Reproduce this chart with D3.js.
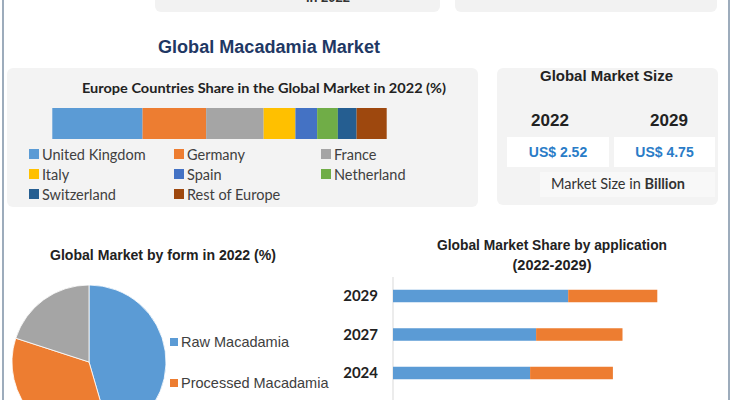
<!DOCTYPE html>
<html><head><meta charset="utf-8">
<script src="https://cdn.jsdelivr.net/npm/d3@7"></script>
<style>html,body{margin:0;padding:0;background:#fff;overflow:hidden}svg{display:block}</style>
</head><body>
<script>
// ---- data ----
const europeCountries = ["United Kingdom","Germany","France","Italy","Spain","Netherland","Switzerland","Rest of Europe"];
const europeShares = [27, 19, 17.2, 9.5, 6.5, 6.2, 5.6, 9];
const europeColors = ["#5B9BD5","#ED7D31","#A5A5A5","#FFC000","#4472C4","#70AD47","#255E91","#9E480E"];
const sizeYears = ["2022","2029"];
const sizeValues = [2.52, 4.75];
const formLabels = ["Raw Macadamia","Processed Macadamia"];
const formShares = [45.5, 34.5, 20];
const formColors = ["#5B9BD5","#ED7D31","#A5A5A5"];
const appYears = ["2029","2027","2024"];
const appSeriesA = [58.4, 47.7, 45.7];
const appSeriesB = [29.7, 28.8, 27.6];
const appColors = ["#5B9BD5","#ED7D31"];

const W = 735, H = 400;
const svg = d3.select("body").append("svg").attr("width", W).attr("height", H);
const arial = "'Liberation Sans', Arial, sans-serif";
const cal = "Lato, 'Open Sans', sans-serif";

function fitText(sel, w){ sel.attr("textLength", w).attr("lengthAdjust","spacingAndGlyphs"); return sel; }

// page borders
svg.append("line").attr("x1",3).attr("x2",3).attr("y1",0).attr("y2",H).attr("stroke","#7d90a6").attr("stroke-width",1.5);
svg.append("line").attr("x1",729).attr("x2",729).attr("y1",0).attr("y2",H).attr("stroke","#7d90a6").attr("stroke-width",1.5);

// top cut cards
svg.append("rect").attr("x",155).attr("y",-20).attr("width",285).attr("height",32).attr("rx",6).attr("fill","#f2f2f2");
svg.append("rect").attr("x",455).attr("y",-20).attr("width",262).attr("height",32).attr("rx",6).attr("fill","#f2f2f2");
svg.append("text").attr("x",328).attr("y",2).attr("text-anchor","middle").attr("font-family",arial).attr("font-weight","bold").attr("font-size",13).attr("fill","#333").text("in 2022");

// main title
fitText(svg.append("text").attr("x",158).attr("y",53).attr("font-family",arial).attr("font-weight","bold").attr("font-size",18).attr("fill","#1f3864").text("Global Macadamia Market"),222);

// ---- Europe card ----
svg.append("rect").attr("x",7).attr("y",68).attr("width",471).attr("height",139).attr("rx",6).attr("fill","#f3f3f3");
fitText(svg.append("text").attr("x",82).attr("y",93).attr("font-family",cal).attr("font-weight","bold").attr("font-size",14).attr("fill","#222").text("Europe Countries Share in the Global Market in 2022 (%)"),364);

const ex = d3.scaleLinear().domain([0, d3.sum(europeShares)]).range([52.3, 386.7]);
const cum = d3.cumsum(europeShares);
svg.append("g").selectAll("rect").data(europeShares).join("rect")
  .attr("x",(d,i)=>ex(cum[i]-d)).attr("width",d=>ex(d)-ex(0))
  .attr("y",108).attr("height",31).attr("fill",(d,i)=>europeColors[i]);

const legCols = [29,174,321];
const legRows = [154,174,194];
const eleg = svg.append("g").selectAll("g").data(europeCountries).join("g")
  .attr("transform",(d,i)=>`translate(${legCols[i%3]},${legRows[Math.floor(i/3)]})`);
eleg.append("rect").attr("x",0).attr("y",-5).attr("width",10).attr("height",10).attr("fill",(d,i)=>europeColors[i]);
eleg.append("text").attr("x",13).attr("y",5.5).attr("font-family",cal).attr("font-size",14.5).attr("fill","#404040").text(d=>d);

// ---- Market size card ----
svg.append("rect").attr("x",497).attr("y",68).attr("width",221).attr("height",137).attr("rx",6).attr("fill","#f3f3f3");
fitText(svg.append("text").attr("x",540).attr("y",81).attr("font-family",arial).attr("font-weight","bold").attr("font-size",15).attr("fill","#222").text("Global Market Size"),133);
const sizeX = d3.scalePoint().domain(sizeYears).range([550,669]);
const boxX = [507,614], boxW = [102,101];
sizeYears.forEach((y,i)=>{
  svg.append("text").attr("x",sizeX(y)).attr("y",126).attr("text-anchor","middle").attr("font-family",arial).attr("font-weight","bold").attr("font-size",17).attr("fill","#222").text(y);
  svg.append("rect").attr("x",boxX[i]).attr("y",137).attr("width",boxW[i]).attr("height",30).attr("fill","#fff");
  svg.append("text").attr("x",boxX[i]+boxW[i]/2).attr("y",157).attr("text-anchor","middle").attr("font-family",arial).attr("font-weight","bold").attr("font-size",14).attr("fill","#2a7cc7").text("US$ "+d3.format(".2f")(sizeValues[i]));
});
svg.append("rect").attr("x",540).attr("y",172).attr("width",175).attr("height",25).attr("fill","#f8f8f8");
const ms = svg.append("text").attr("x",618).attr("y",189).attr("text-anchor","middle").attr("font-family",cal).attr("font-size",14.5).attr("fill","#333");
ms.append("tspan").text("Market Size in ");
ms.append("tspan").attr("font-weight","bold").text("Billion");

// ---- Pie ----
fitText(svg.append("text").attr("x",50).attr("y",260).attr("font-family",arial).attr("font-weight","bold").attr("font-size",14).attr("fill","#222").text("Global Market by form in 2022 (%)"),226);
const pie = d3.pie().sort(null).value(d=>d)(formShares);
const arc = d3.arc().innerRadius(0).outerRadius(77);
svg.append("g").attr("transform","translate(89,362)").selectAll("path").data(pie).join("path")
  .attr("d",arc).attr("fill",(d,i)=>formColors[i]).attr("stroke","#fff").attr("stroke-width",0.8);
const pleg = svg.append("g").selectAll("g").data(formLabels).join("g").attr("transform",(d,i)=>`translate(170,${342+i*41})`);
pleg.append("rect").attr("x",0).attr("y",-4).attr("width",8).attr("height",8).attr("fill",(d,i)=>formColors[i]);
pleg.append("text").attr("x",11).attr("y",5).attr("font-family",arial).attr("font-size",14.5).attr("fill","#404040").text(d=>d);

// ---- Application bars ----
const t1 = svg.append("text").attr("x",552).attr("y",250).attr("text-anchor","middle").attr("font-family",arial).attr("font-weight","bold").attr("font-size",14.5).attr("fill","#222");
fitText(t1.text("Global Market Share by application"),230);
svg.append("text").attr("x",552).attr("y",270).attr("text-anchor","middle").attr("font-family",arial).attr("font-weight","bold").attr("font-size",14.5).attr("fill","#222").text("(2022-2029)");

const bx = d3.scaleLinear().domain([0,100]).range([393,693]);
const by = d3.scalePoint().domain(appYears).range([296,373]);
const bh = 12.5;
const ax = svg.append("g").attr("transform","translate(393,0)").call(d3.axisLeft(by).tickSize(0).tickPadding(15));
ax.select(".domain").remove();
ax.selectAll("text").attr("font-family",cal).attr("font-weight","bold").attr("font-size",15).attr("fill","#222");
svg.append("line").attr("x1",393).attr("x2",393).attr("y1",277).attr("y2",H).attr("stroke","#d9d9d9").attr("stroke-width",1);
const series = [appSeriesA, appSeriesB];
series.forEach((s,k)=>{
  svg.append("g").selectAll("rect").data(s).join("rect")
    .attr("x",(d,i)=>bx(k===0?0:appSeriesA[i]))
    .attr("width",d=>bx(d)-bx(0))
    .attr("y",(d,i)=>by(appYears[i])-bh/2).attr("height",bh).attr("fill",appColors[k]);
});
</script>
</body></html>
